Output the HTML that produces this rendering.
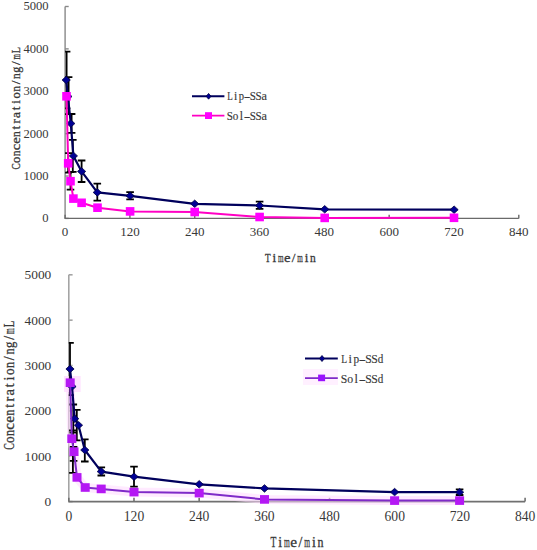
<!DOCTYPE html>
<html><head><meta charset="utf-8"><title>Concentration-time curves</title><style>html,body{margin:0;padding:0;background:#fff;}body{width:537px;height:550px;position:relative;overflow:hidden;font-family:"Liberation Serif",serif;}</style></head><body>
<svg width="537" height="550" viewBox="0 0 537 550" style="position:absolute;left:0;top:0">
<rect width="537" height="550" fill="#fff"/>
<g stroke="#888" stroke-width="1.4" fill="none"><path d="M65.1 6.5V218.4"/><path d="M65.1 218.4H68.7"/><path d="M65.1 176.02H68.7"/><path d="M65.1 133.64H68.7"/><path d="M65.1 91.26H68.7"/><path d="M65.1 48.88H68.7"/><path d="M65.1 6.5H68.7"/></g><g stroke="#6a6a6a" stroke-width="1.4" fill="none"><path d="M64.6 218.4H518.8"/><path d="M65.1 218.4V214.8"/><path d="M129.91 218.4V214.8"/><path d="M194.73 218.4V214.8"/><path d="M259.54 218.4V214.8"/><path d="M324.36 218.4V214.8"/><path d="M389.17 218.4V214.8"/><path d="M453.99 218.4V214.8"/><path d="M518.8 218.4V214.8"/></g>
<g font-family="Liberation Serif" font-size="12.6" fill="#383838" text-anchor="end">
<text x="48.6" y="222.3">0</text>
<text x="48.6" y="179.92">1000</text>
<text x="48.6" y="137.54">2000</text>
<text x="48.6" y="95.16">3000</text>
<text x="48.6" y="52.78">4000</text>
<text x="48.6" y="10.4">5000</text>
</g>
<g font-family="Liberation Serif" font-size="13" fill="#383838" text-anchor="middle">
<text x="65.1" y="236.2">0</text>
<text x="129.91" y="236.2">120</text>
<text x="194.73" y="236.2">240</text>
<text x="259.54" y="236.2">360</text>
<text x="324.36" y="236.2">480</text>
<text x="389.17" y="236.2">600</text>
<text x="453.99" y="236.2">720</text>
<text x="518.8" y="236.2">840</text>
</g>
<clipPath id="ct"><rect x="65.1" y="0" width="500" height="218.4"/></clipPath>
<clipPath id="cb"><rect x="68.8" y="260" width="500" height="241.6"/></clipPath>
<g clip-path="url(#ct)">
<path d="M66.6 51.7V108.3" stroke="#000" stroke-width="1.8" fill="none"/><path d="M62.8 51.7H70.4 M62.8 108.3H70.4" stroke="#000" stroke-width="1.8" fill="none"/>
<path d="M68.6 77.1V114.2" stroke="#000" stroke-width="1.8" fill="none"/><path d="M64.8 77.1H72.4 M64.8 114.2H72.4" stroke="#000" stroke-width="1.8" fill="none"/>
<path d="M71.6 114V132.8" stroke="#000" stroke-width="1.8" fill="none"/><path d="M67.8 114H75.4 M67.8 132.8H75.4" stroke="#000" stroke-width="1.8" fill="none"/>
<path d="M72.8 139.8V171.8" stroke="#000" stroke-width="1.8" fill="none"/><path d="M69 139.8H76.6 M69 171.8H76.6" stroke="#000" stroke-width="1.8" fill="none"/>
<path d="M81.6 160.5V182" stroke="#000" stroke-width="1.8" fill="none"/><path d="M77.8 160.5H85.4 M77.8 182H85.4" stroke="#000" stroke-width="1.8" fill="none"/>
<path d="M97.3 183.7V200.6" stroke="#000" stroke-width="1.8" fill="none"/><path d="M93.5 183.7H101.1 M93.5 200.6H101.1" stroke="#000" stroke-width="1.8" fill="none"/>
<path d="M130.1 192.1V199.3" stroke="#000" stroke-width="1.8" fill="none"/><path d="M126.3 192.1H133.9 M126.3 199.3H133.9" stroke="#000" stroke-width="1.8" fill="none"/>
<path d="M259.6 201.6V208.8" stroke="#000" stroke-width="1.8" fill="none"/><path d="M255.8 201.6H263.4 M255.8 208.8H263.4" stroke="#000" stroke-width="1.8" fill="none"/>
</g>
<polyline points="66.2,80 67.9,96.5 70.8,123.5 73.4,155.9 81.6,171.4 97.3,192.4 130.1,195.8 194.7,203.8 259.6,205.5 324.7,209.3 454.1,209.7" fill="none" stroke="#00005c" stroke-width="2.2" stroke-linejoin="round" />
<path d="M66.2 76.25L70.3 80L66.2 83.75L62.1 80Z" fill="#000094" stroke="#000040" stroke-width="0.8"/>
<path d="M67.9 92.75L72 96.5L67.9 100.25L63.8 96.5Z" fill="#000094" stroke="#000040" stroke-width="0.8"/>
<path d="M70.8 119.75L74.9 123.5L70.8 127.25L66.7 123.5Z" fill="#000094" stroke="#000040" stroke-width="0.8"/>
<path d="M73.4 152.15L77.5 155.9L73.4 159.65L69.3 155.9Z" fill="#000094" stroke="#000040" stroke-width="0.8"/>
<path d="M81.6 167.65L85.7 171.4L81.6 175.15L77.5 171.4Z" fill="#000094" stroke="#000040" stroke-width="0.8"/>
<path d="M97.3 188.65L101.4 192.4L97.3 196.15L93.2 192.4Z" fill="#000094" stroke="#000040" stroke-width="0.8"/>
<path d="M130.1 192.05L134.2 195.8L130.1 199.55L126 195.8Z" fill="#000094" stroke="#000040" stroke-width="0.8"/>
<path d="M194.7 200.05L198.8 203.8L194.7 207.55L190.6 203.8Z" fill="#000094" stroke="#000040" stroke-width="0.8"/>
<path d="M259.6 201.75L263.7 205.5L259.6 209.25L255.5 205.5Z" fill="#000094" stroke="#000040" stroke-width="0.8"/>
<path d="M324.7 205.55L328.8 209.3L324.7 213.05L320.6 209.3Z" fill="#000094" stroke="#000040" stroke-width="0.8"/>
<path d="M454.1 205.95L458.2 209.7L454.1 213.45L450 209.7Z" fill="#000094" stroke="#000040" stroke-width="0.8"/>
<g clip-path="url(#ct)">
<path d="M68.2 153.1V172.7" stroke="#000" stroke-width="1.8" fill="none"/><path d="M64.4 153.1H72 M64.4 172.7H72" stroke="#000" stroke-width="1.8" fill="none"/>
<path d="M70.5 172V189.6" stroke="#000" stroke-width="1.8" fill="none"/><path d="M66.7 172H74.3 M66.7 189.6H74.3" stroke="#000" stroke-width="1.8" fill="none"/>
</g>
<polyline points="66.5,96.3 68.2,163.3 70.5,181.2 73.4,198.6 81.6,202.8 97.5,207.7 130.1,211.4 194.7,212 259.6,217 324.7,217.9 454,217.8" fill="none" stroke="#FF00C4" stroke-width="2" stroke-linejoin="round" />
<rect x="62.2" y="92" width="8.6" height="8.6" fill="#FF00FF"/>
<rect x="63.9" y="159" width="8.6" height="8.6" fill="#FF00FF"/>
<rect x="66.2" y="176.9" width="8.6" height="8.6" fill="#FF00FF"/>
<rect x="69.1" y="194.3" width="8.6" height="8.6" fill="#FF00FF"/>
<rect x="77.3" y="198.5" width="8.6" height="8.6" fill="#FF00FF"/>
<rect x="93.2" y="203.4" width="8.6" height="8.6" fill="#FF00FF"/>
<rect x="125.8" y="207.1" width="8.6" height="8.6" fill="#FF00FF"/>
<rect x="190.4" y="207.7" width="8.6" height="8.6" fill="#FF00FF"/>
<rect x="255.3" y="212.7" width="8.6" height="8.6" fill="#FF00FF"/>
<rect x="320.4" y="213.6" width="8.6" height="8.6" fill="#FF00FF"/>
<rect x="449.7" y="213.5" width="8.6" height="8.6" fill="#FF00FF"/>
<path d="M192 96.2H224.4" stroke="#00005c" stroke-width="2"/>
<path d="M208.6 93.4L211 96.3L208.6 99.2L206.2 96.3Z" fill="#000094" stroke="#000040" stroke-width="0.8"/>
<path d="M192 115.6H224.4" stroke="#FF00C4" stroke-width="1.8"/>
<rect x="205" y="112.2" width="7" height="6.8" fill="#FF00FF"/>
<g font-family="Liberation Serif">
<g font-size="11.8" fill="#383838" font-weight="normal" stroke="#383838" stroke-width="0.15"><text transform="translate(229.88 100.1) scale(0.766 1.000)" x="-3.42" y="0">L</text><text x="233.97" y="100.1">i</text><text transform="translate(241.38 100.1) scale(0.898 1.000)" x="-2.81" y="0">p</text><text transform="translate(247.12 100.1) scale(1.726 1.000)" x="-1.97" y="0">-</text><text transform="translate(252.88 100.1) scale(0.935 1.000)" x="-3.31" y="0">S</text><text transform="translate(258.62 100.1) scale(0.935 1.000)" x="-3.31" y="0">S</text><text transform="translate(264.38 100.1) scale(1.036 1.000)" x="-2.75" y="0">a</text></g>
<g font-size="11.8" fill="#383838" font-weight="normal" stroke="#383838" stroke-width="0.15"><text transform="translate(229.88 119.6) scale(0.935 1.000)" x="-3.31" y="0">S</text><text transform="translate(235.62 119.6) scale(0.943 1.000)" x="-2.95" y="0">o</text><text x="239.74" y="119.6">l</text><text transform="translate(247.12 119.6) scale(1.726 1.000)" x="-1.97" y="0">-</text><text transform="translate(252.88 119.6) scale(0.935 1.000)" x="-3.31" y="0">S</text><text transform="translate(258.62 119.6) scale(0.935 1.000)" x="-3.31" y="0">S</text><text transform="translate(264.38 119.6) scale(1.036 1.000)" x="-2.75" y="0">a</text></g>
<g font-size="13.2" fill="#383838" font-weight="normal" stroke="#383838" stroke-width="0.3"><text transform="translate(267.83 262.4) scale(0.695 1.000)" x="-4.04" y="0">T</text><text x="272.43" y="262.4">i</text><text transform="translate(280.73 262.4) scale(0.541 1.000)" x="-5.17" y="0">m</text><text transform="translate(287.18 262.4) scale(1.109 1.000)" x="-2.96" y="0">e</text><text x="291.79" y="262.4">/</text><text transform="translate(300.08 262.4) scale(0.541 1.000)" x="-5.17" y="0">m</text><text x="304.68" y="262.4">i</text><text transform="translate(312.98 262.4) scale(0.867 1.000)" x="-3.35" y="0">n</text></g>
<g transform="rotate(-90)">
<g font-size="13.2" fill="#383838" font-weight="normal" stroke="#383838" stroke-width="0.3"><text transform="translate(-166.38 20.2) scale(0.702 1.000)" x="-4.31" y="0">C</text><text transform="translate(-159.92 20.2) scale(0.945 1.000)" x="-3.3" y="0">o</text><text transform="translate(-153.47 20.2) scale(0.867 1.000)" x="-3.35" y="0">n</text><text transform="translate(-147.03 20.2) scale(1.095 1.000)" x="-2.98" y="0">c</text><text transform="translate(-140.57 20.2) scale(1.109 1.000)" x="-2.96" y="0">e</text><text transform="translate(-134.12 20.2) scale(0.867 1.000)" x="-3.35" y="0">n</text><text x="-129.53" y="20.2">t</text><text x="-123.5" y="20.2">r</text><text transform="translate(-114.77 20.2) scale(1.039 1.000)" x="-3.07" y="0">a</text><text x="-110.18" y="20.2">t</text><text x="-103.72" y="20.2">i</text><text transform="translate(-95.42 20.2) scale(0.945 1.000)" x="-3.3" y="0">o</text><text transform="translate(-88.97 20.2) scale(0.867 1.000)" x="-3.35" y="0">n</text><text x="-84.36" y="20.2">/</text><text transform="translate(-76.07 20.2) scale(0.867 1.000)" x="-3.35" y="0">n</text><text transform="translate(-69.62 20.2) scale(0.915 1.000)" x="-3.46" y="0">g</text><text x="-65.01" y="20.2">/</text><text transform="translate(-56.72 20.2) scale(0.541 1.000)" x="-5.17" y="0">m</text><text transform="translate(-50.27 20.2) scale(0.768 1.000)" x="-3.83" y="0">L</text></g>
</g>
</g>
<g stroke="#a4a4a4" stroke-width="1.6" fill="none"><path d="M68.8 274.8V501.6"/><path d="M68.8 501.6H72.6"/><path d="M68.8 456.24H72.6"/><path d="M68.8 410.88H72.6"/><path d="M68.8 365.52H72.6"/><path d="M68.8 320.16H72.6"/><path d="M68.8 274.8H72.6"/></g><g stroke="#707070" stroke-width="1.6" fill="none"><path d="M68.3 501.6H525.1"/><path d="M68.8 501.6V497.8"/><path d="M133.99 501.6V497.8"/><path d="M199.17 501.6V497.8"/><path d="M264.36 501.6V497.8"/><path d="M329.54 501.6V497.8"/><path d="M394.73 501.6V497.8"/><path d="M459.91 501.6V497.8"/><path d="M525.1 501.6V497.8"/></g>
<g font-family="Liberation Serif" font-size="13.4" fill="#383838" text-anchor="end">
<text x="51.3" y="506.1">0</text>
<text x="51.3" y="460.74">1000</text>
<text x="51.3" y="415.38">2000</text>
<text x="51.3" y="370.02">3000</text>
<text x="51.3" y="324.66">4000</text>
<text x="51.3" y="279.3">5000</text>
</g>
<g font-family="Liberation Serif" font-size="13.6" fill="#383838" text-anchor="middle">
<text x="68.8" y="520.9">0</text>
<text x="133.99" y="520.9">120</text>
<text x="199.17" y="520.9">240</text>
<text x="264.36" y="520.9">360</text>
<text x="329.54" y="520.9">480</text>
<text x="394.73" y="520.9">600</text>
<text x="459.91" y="520.9">720</text>
<text x="525.1" y="520.9">840</text>
</g>
<polyline points="70.2,382.7 71.8,438.7 74,451.7 77,477.4 85.2,487.5 101.2,488.9 134,492.1 199.2,493.1 264.5,499.4 394.6,500.6 459.6,500.6" fill="none" stroke="#ffd8ff" stroke-width="9" stroke-linejoin="round" stroke-opacity="0.55" stroke-linejoin="miter"/>
<rect x="64" y="376" width="16.6" height="16" fill="#ffd6ff" fill-opacity="0.7"/>
<g clip-path="url(#cb)">
<path d="M70 342.8V395.2" stroke="#000" stroke-width="1.8" fill="none"/><path d="M66.2 342.8H73.8 M66.2 395.2H73.8" stroke="#000" stroke-width="1.8" fill="none"/>
<path d="M73.3 404.5V432.7" stroke="#000" stroke-width="1.8" fill="none"/><path d="M69.5 404.5H77.1 M69.5 432.7H77.1" stroke="#000" stroke-width="1.8" fill="none"/>
<path d="M76.8 409.8V440.4" stroke="#000" stroke-width="1.8" fill="none"/><path d="M73 409.8H80.6 M73 440.4H80.6" stroke="#000" stroke-width="1.8" fill="none"/>
<path d="M84.8 439.3V461.5" stroke="#000" stroke-width="1.8" fill="none"/><path d="M81 439.3H88.6 M81 461.5H88.6" stroke="#000" stroke-width="1.8" fill="none"/>
<path d="M134 466.6V486.6" stroke="#000" stroke-width="1.8" fill="none"/><path d="M130.2 466.6H137.8 M130.2 486.6H137.8" stroke="#000" stroke-width="1.8" fill="none"/>
<path d="M459.6 489.4V495" stroke="#000" stroke-width="1.8" fill="none"/><path d="M455.8 489.4H463.4 M455.8 495H463.4" stroke="#000" stroke-width="1.8" fill="none"/>
<path d="M101.3 467.3V475.5" stroke="#000" stroke-width="1.8" fill="none"/><path d="M97.5 467.3H105.1 M97.5 475.5H105.1" stroke="#000" stroke-width="1.8" fill="none"/>
</g>
<polyline points="70,369 72,386.6 74.7,418.7 78.5,425.2 84.8,450 101.3,471.6 134,476.7 199.2,484.3 264.5,488.4 394.6,492.1 459.6,492.2" fill="none" stroke="#00005c" stroke-width="2.2" stroke-linejoin="round" />
<path d="M70 365.25L74.1 369L70 372.75L65.9 369Z" fill="#000094" stroke="#000040" stroke-width="0.8"/>
<path d="M72 382.85L76.1 386.6L72 390.35L67.9 386.6Z" fill="#000094" stroke="#000040" stroke-width="0.8"/>
<path d="M74.7 414.95L78.8 418.7L74.7 422.45L70.6 418.7Z" fill="#000094" stroke="#000040" stroke-width="0.8"/>
<path d="M78.5 421.45L82.6 425.2L78.5 428.95L74.4 425.2Z" fill="#000094" stroke="#000040" stroke-width="0.8"/>
<path d="M84.8 446.25L88.9 450L84.8 453.75L80.7 450Z" fill="#000094" stroke="#000040" stroke-width="0.8"/>
<path d="M101.3 467.85L105.4 471.6L101.3 475.35L97.2 471.6Z" fill="#000094" stroke="#000040" stroke-width="0.8"/>
<path d="M134 472.95L138.1 476.7L134 480.45L129.9 476.7Z" fill="#000094" stroke="#000040" stroke-width="0.8"/>
<path d="M199.2 480.55L203.3 484.3L199.2 488.05L195.1 484.3Z" fill="#000094" stroke="#000040" stroke-width="0.8"/>
<path d="M264.5 484.65L268.6 488.4L264.5 492.15L260.4 488.4Z" fill="#000094" stroke="#000040" stroke-width="0.8"/>
<path d="M394.6 488.35L398.7 492.1L394.6 495.85L390.5 492.1Z" fill="#000094" stroke="#000040" stroke-width="0.8"/>
<path d="M459.6 488.45L463.7 492.2L459.6 495.95L455.5 492.2Z" fill="#000094" stroke="#000040" stroke-width="0.8"/>
<g clip-path="url(#cb)">
<path d="M72.9 430.5V472.9" stroke="#000" stroke-width="1.8" fill="none"/><path d="M69.1 430.5H76.7 M69.1 472.9H76.7" stroke="#000" stroke-width="1.8" fill="none"/>
<path d="M73.6 446.8V460.8" stroke="#000" stroke-width="1.8" fill="none"/><path d="M69.8 446.8H77.4 M69.8 460.8H77.4" stroke="#000" stroke-width="1.8" fill="none"/>
</g>
<polyline points="70.2,382.7 71.8,438.7 74,451.7 77,477.4 85.2,487.5 101.2,488.9 134,492.1 199.2,493.1 264.5,499.4 394.6,500.6 459.6,500.6" fill="none" stroke="#7f2ac8" stroke-width="2" stroke-linejoin="round" />
<rect x="65.7" y="378.4" width="9" height="8.6" fill="#b418f4"/>
<rect x="67.3" y="434.4" width="9" height="8.6" fill="#b418f4"/>
<rect x="69.5" y="447.4" width="9" height="8.6" fill="#b418f4"/>
<rect x="72.5" y="473.1" width="9" height="8.6" fill="#b418f4"/>
<rect x="80.7" y="483.2" width="9" height="8.6" fill="#b418f4"/>
<rect x="96.7" y="484.6" width="9" height="8.6" fill="#b418f4"/>
<rect x="129.5" y="487.8" width="9" height="8.6" fill="#b418f4"/>
<rect x="194.7" y="488.8" width="9" height="8.6" fill="#b418f4"/>
<rect x="260" y="495.1" width="9" height="8.6" fill="#b418f4"/>
<rect x="390.1" y="496.3" width="9" height="8.6" fill="#b418f4"/>
<rect x="455.1" y="496.3" width="9" height="8.6" fill="#b418f4"/>
<path d="M305 358.4H337.8" stroke="#00005c" stroke-width="2"/>
<path d="M322 355.5L324.5 358.5L322 361.5L319.5 358.5Z" fill="#000094" stroke="#000040" stroke-width="0.8"/>
<rect x="303" y="369" width="35" height="16" fill="#ffe6ff" fill-opacity="0.6"/>
<path d="M305 378.2H337.8" stroke="#7f2ac8" stroke-width="1.8"/>
<rect x="318.1" y="374.6" width="7" height="6.6" fill="#9a10ff"/>
<g font-family="Liberation Serif">
<g font-size="12.4" fill="#383838" font-weight="normal" stroke="#383838" stroke-width="0.15"><text transform="translate(344.05 362.9) scale(0.773 1.000)" x="-3.59" y="0">L</text><text x="348.42" y="362.9">i</text><text transform="translate(356.25 362.9) scale(0.907 1.000)" x="-2.96" y="0">p</text><text transform="translate(362.35 362.9) scale(1.742 1.000)" x="-2.07" y="0">-</text><text transform="translate(368.45 362.9) scale(0.944 1.000)" x="-3.48" y="0">S</text><text transform="translate(374.55 362.9) scale(0.944 1.000)" x="-3.48" y="0">S</text><text transform="translate(380.65 362.9) scale(0.893 1.000)" x="-3.25" y="0">d</text></g>
<g font-size="12.4" fill="#383838" font-weight="normal" stroke="#383838" stroke-width="0.15"><text transform="translate(344.05 382.6) scale(0.944 1.000)" x="-3.48" y="0">S</text><text transform="translate(350.15 382.6) scale(0.952 1.000)" x="-3.1" y="0">o</text><text x="354.53" y="382.6">l</text><text transform="translate(362.35 382.6) scale(1.742 1.000)" x="-2.07" y="0">-</text><text transform="translate(368.45 382.6) scale(0.944 1.000)" x="-3.48" y="0">S</text><text transform="translate(374.55 382.6) scale(0.944 1.000)" x="-3.48" y="0">S</text><text transform="translate(380.65 382.6) scale(0.893 1.000)" x="-3.25" y="0">d</text></g>
<g font-size="13.8" fill="#383838" font-weight="normal" stroke="#383838" stroke-width="0.3"><text transform="translate(273.38 546.6) scale(0.696 1.000)" x="-4.22" y="0">T</text><text x="278.19" y="546.6">i</text><text transform="translate(286.88 546.6) scale(0.541 1.000)" x="-5.4" y="0">m</text><text transform="translate(293.62 546.6) scale(1.110 1.000)" x="-3.09" y="0">e</text><text x="298.46" y="546.6">/</text><text transform="translate(307.12 546.6) scale(0.541 1.000)" x="-5.4" y="0">m</text><text x="311.94" y="546.6">i</text><text transform="translate(320.62 546.6) scale(0.868 1.000)" x="-3.5" y="0">n</text></g>
<g transform="rotate(-90)">
<g font-size="14" fill="#383838" font-weight="normal" stroke="#383838" stroke-width="0.3"><text transform="translate(-446.6 14.3) scale(0.698 1.000)" x="-4.57" y="0">C</text><text transform="translate(-439.8 14.3) scale(0.940 1.000)" x="-3.5" y="0">o</text><text transform="translate(-433 14.3) scale(0.862 1.000)" x="-3.55" y="0">n</text><text transform="translate(-426.2 14.3) scale(1.088 1.000)" x="-3.16" y="0">c</text><text transform="translate(-419.4 14.3) scale(1.102 1.000)" x="-3.14" y="0">e</text><text transform="translate(-412.6 14.3) scale(0.862 1.000)" x="-3.55" y="0">n</text><text x="-407.77" y="14.3">t</text><text x="-401.41" y="14.3">r</text><text transform="translate(-392.2 14.3) scale(1.033 1.000)" x="-3.26" y="0">a</text><text x="-387.37" y="14.3">t</text><text x="-380.56" y="14.3">i</text><text transform="translate(-371.8 14.3) scale(0.940 1.000)" x="-3.5" y="0">o</text><text transform="translate(-365 14.3) scale(0.862 1.000)" x="-3.55" y="0">n</text><text x="-360.14" y="14.3">/</text><text transform="translate(-351.4 14.3) scale(0.862 1.000)" x="-3.55" y="0">n</text><text transform="translate(-344.6 14.3) scale(0.909 1.000)" x="-3.67" y="0">g</text><text x="-339.74" y="14.3">/</text><text transform="translate(-331 14.3) scale(0.537 1.000)" x="-5.48" y="0">m</text><text transform="translate(-324.2 14.3) scale(0.763 1.000)" x="-4.06" y="0">L</text></g>
</g>
</g>
</svg>
</body></html>
